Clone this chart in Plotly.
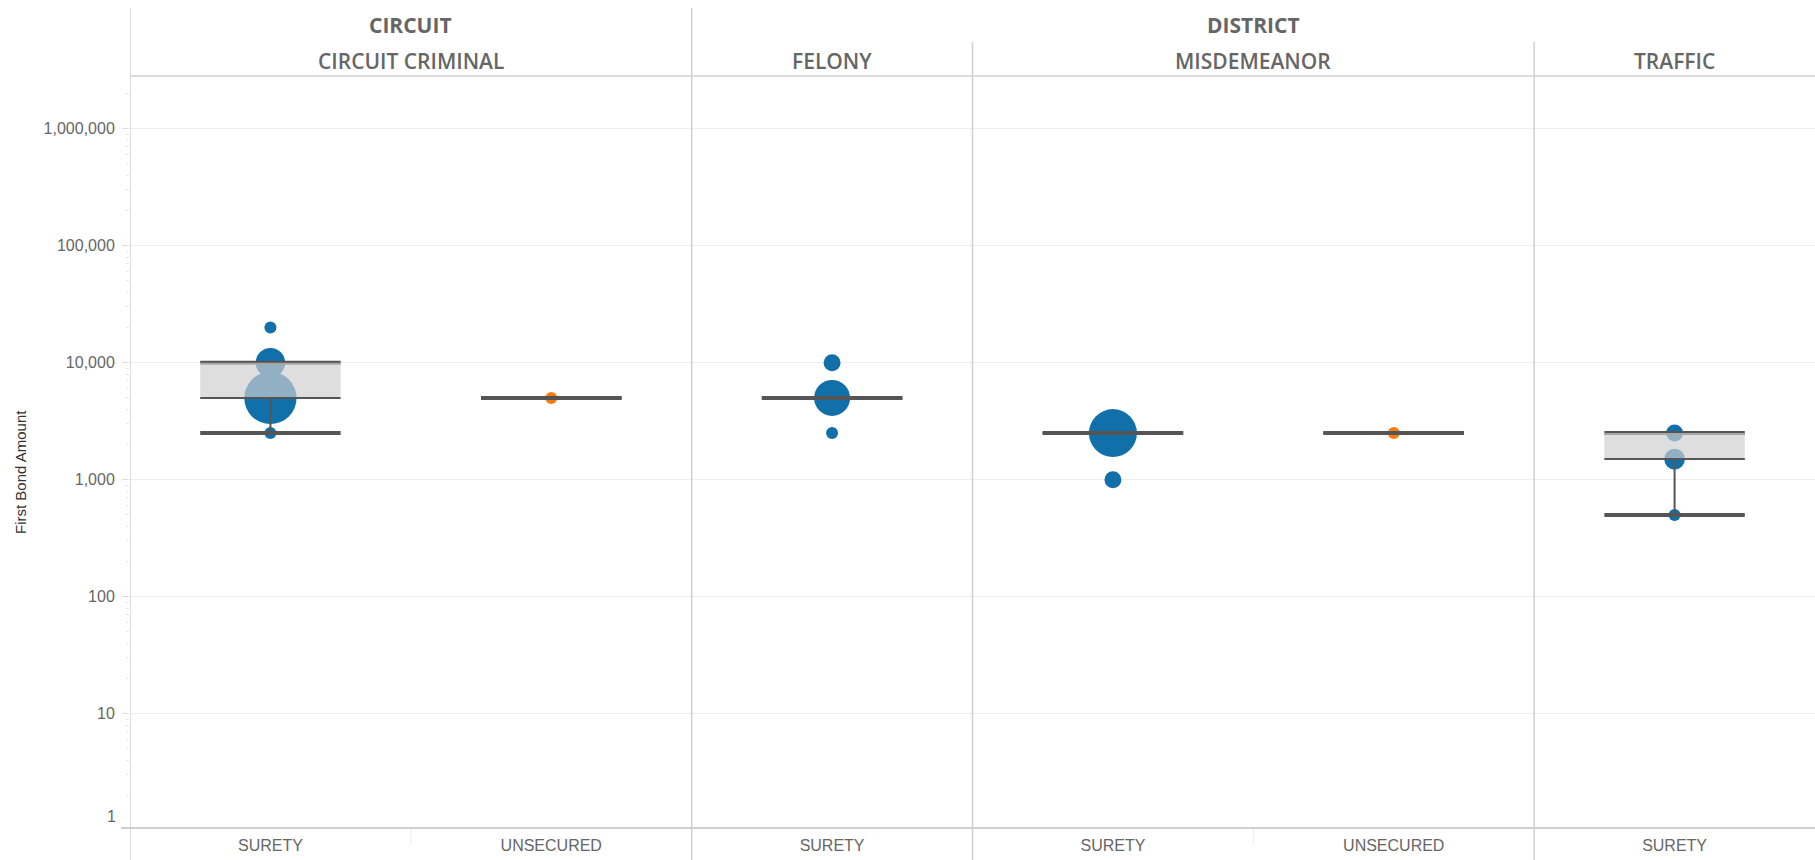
import numpy as np
import plotly.graph_objects as go

# ---------------- data ----------------
col_type = ["SURETY", "UNSECURED", "SURETY", "SURETY", "UNSECURED", "SURETY"]
col_court = ["CIRCUIT", "CIRCUIT", "DISTRICT", "DISTRICT", "DISTRICT", "DISTRICT"]
col_case = ["CIRCUIT CRIMINAL", "CIRCUIT CRIMINAL", "FELONY", "MISDEMEANOR", "MISDEMEANOR", "TRAFFIC"]

pt_col = [0, 0, 0, 0, 1, 2, 2, 2, 3, 3, 4, 5, 5, 5]
pt_amount = [20000, 10000, 5000, 2500, 5000, 10000, 5000, 2500, 2500, 1000, 2500, 2500, 1500, 500]
pt_count = [1, 6, 19, 1, 1, 2, 9, 1, 16, 2, 1, 2, 3, 1]

box_q1 = [5000, 5000, 5000, 2500, 2500, 1500]
box_med = [5000, 5000, 5000, 2500, 2500, 1500]
box_q3 = [10000, 5000, 5000, 2500, 2500, 2500]
box_lo = [2500, 5000, 5000, 2500, 2500, 500]
box_hi = [10000, 5000, 5000, 2500, 2500, 2500]

y_ticks = [10, 100, 1000, 10000, 100000, 1000000]

# ---------------- styles ----------------
BLUE = "#1170aa"
ORANGE = "#fc7d0b"
LINE = "#555555"
SEP = "#d0d0d0"
TXT = "#666666"
HALF = 0.25          # half box width in category units
W, H = 1815, 860
ML, MR, MT, MB = 130, 0, 76, 32
PH = H - MT - MB


def py(px):
    """pixel row -> paper y"""
    return 1 + (MT - px) / PH


fig = go.Figure()

# dots
n = len(col_type)
colors = [BLUE if col_type[c] == "SURETY" else ORANGE for c in pt_col]
fig.add_trace(go.Scatter(
    x=pt_col, y=pt_amount, mode="markers",
    marker=dict(color=colors, size=12 * np.sqrt(np.array(pt_count)), line=dict(width=0), opacity=1),
    hoverinfo="y", showlegend=False))

# whisker caps
cx, cy = [], []
for i in range(n):
    for v in (box_lo[i], box_hi[i]):
        cx += [i - HALF, i + HALF, None]
        cy += [v, v, None]
fig.add_trace(go.Scatter(x=cx, y=cy, mode="lines", line=dict(color=LINE, width=4),
                         hoverinfo="skip", showlegend=False))

# box fill (q1 -> median and median -> q3)
for i in range(n):
    for a, b in ((box_q1[i], box_med[i]), (box_med[i], box_q3[i])):
        if b > a:
            fig.add_trace(go.Scatter(
                x=[i - HALF, i + HALF, i + HALF, i - HALF, i - HALF],
                y=[a, a, b, b, a], mode="lines", fill="toself",
                fillcolor="rgba(206,206,206,0.68)", line=dict(width=0),
                hoverinfo="skip", showlegend=False))

# median + whiskers
mx, my = [], []
for i in range(n):
    mx += [i - HALF, i + HALF, None]
    my += [box_med[i], box_med[i], None]
    if box_lo[i] < box_q1[i]:
        mx += [i, i, None]
        my += [box_q1[i], box_lo[i], None]
    if box_hi[i] > box_q3[i]:
        mx += [i, i, None]
        my += [box_q3[i], box_hi[i], None]
fig.add_trace(go.Scatter(x=mx, y=my, mode="lines", line=dict(color=LINE, width=2),
                         hoverinfo="skip", showlegend=False))

# ---------------- headers / separators ----------------
shapes = []
annotations = []

# left border
shapes.append(dict(type="line", xref="x", yref="paper", x0=-0.5, x1=-0.5,
                   y0=py(H), y1=py(8), line=dict(color=SEP, width=1.5)))
for i in range(1, n):
    xb = i - 0.5
    if col_court[i] != col_court[i - 1]:
        shapes.append(dict(type="line", xref="x", yref="paper", x0=xb, x1=xb,
                           y0=py(H), y1=py(8), line=dict(color=SEP, width=1.5)))
    elif col_case[i] != col_case[i - 1]:
        shapes.append(dict(type="line", xref="x", yref="paper", x0=xb, x1=xb,
                           y0=py(H), y1=py(42), line=dict(color=SEP, width=1.5)))
    else:
        shapes.append(dict(type="line", xref="x", yref="paper", x0=xb, x1=xb,
                           y0=py(845), y1=py(829), line=dict(color="#ececec", width=1)))

# header bottom line and axis line
shapes.append(dict(type="line", xref="paper", yref="paper", x0=0, x1=1, y0=1, y1=1,
                   line=dict(color=SEP, width=1.5)))
shapes.append(dict(type="line", xref="paper", yref="paper", x0=(121 - ML) / (W - ML), x1=1,
                   y0=0, y1=0, line=dict(color="#cfcfcf", width=2)))


def spans(keys):
    out = []
    start = 0
    for i in range(1, len(keys) + 1):
        if i == len(keys) or keys[i] != keys[start]:
            out.append((keys[start], (start + i - 1) / 2))
            start = i
    return out


for label, xc in spans(col_court):
    annotations.append(dict(text=label, x=xc, xref="x", y=1, yref="paper", yshift=MT - 25,
                            showarrow=False, xanchor="center", yanchor="middle",
                            font=dict(family="Open Sans", size=21, color=TXT, weight=700)))
for label, xc in spans(col_case):
    annotations.append(dict(text=label, x=xc, xref="x", y=1, yref="paper", yshift=MT - 61,
                            showarrow=False, xanchor="center", yanchor="middle",
                            font=dict(family="Open Sans", size=21, color=TXT, weight=600)))

# y title
annotations.append(dict(text="First Bond Amount", xref="paper", x=0, xshift=21 - ML,
                        yref="paper", y=py(472), textangle=-90, showarrow=False,
                        xanchor="center", yanchor="middle",
                        font=dict(family="Liberation Sans", size=15, color="#333333")))
# "1" label nudged inside the axis like the original
annotations.append(dict(text="1", xref="paper", x=0, xshift=-12, yref="paper", y=0, yshift=12,
                        showarrow=False, xanchor="right", yanchor="middle",
                        font=dict(family="Liberation Sans", size=16, color=TXT)))

fig.update_layout(
    width=W, height=H,
    margin=dict(l=ML, r=MR, t=MT, b=MB, pad=0),
    paper_bgcolor="white", plot_bgcolor="white",
    shapes=shapes, annotations=annotations,
    showlegend=False,
    xaxis=dict(range=[-0.5, n - 0.5], tickvals=list(range(n)), ticktext=col_type,
               showgrid=False, zeroline=False, showline=False, ticks="",
               tickfont=dict(family="Liberation Sans", size=16, color=TXT),
               ticklabelstandoff=6, fixedrange=True),
    yaxis=dict(type="log", range=[0.023, 6.45], tickmode="array", tickvals=y_ticks,
               tickformat=",", showgrid=True, gridcolor="#efefef", gridwidth=1,
               zeroline=False, showline=False, ticks="outside", ticklen=7,
               tickcolor="#dddddd", ticklabelstandoff=4,
               tickfont=dict(family="Liberation Sans", size=16, color=TXT),
               minor=dict(ticks="outside", ticklen=3, tickcolor="#e6e6e6", dtick="D1", showgrid=False),
               fixedrange=True),
)

fig.write_html("out.html", config={"displayModeBar": False},
               post_script="document.body.style.margin='0px';")
